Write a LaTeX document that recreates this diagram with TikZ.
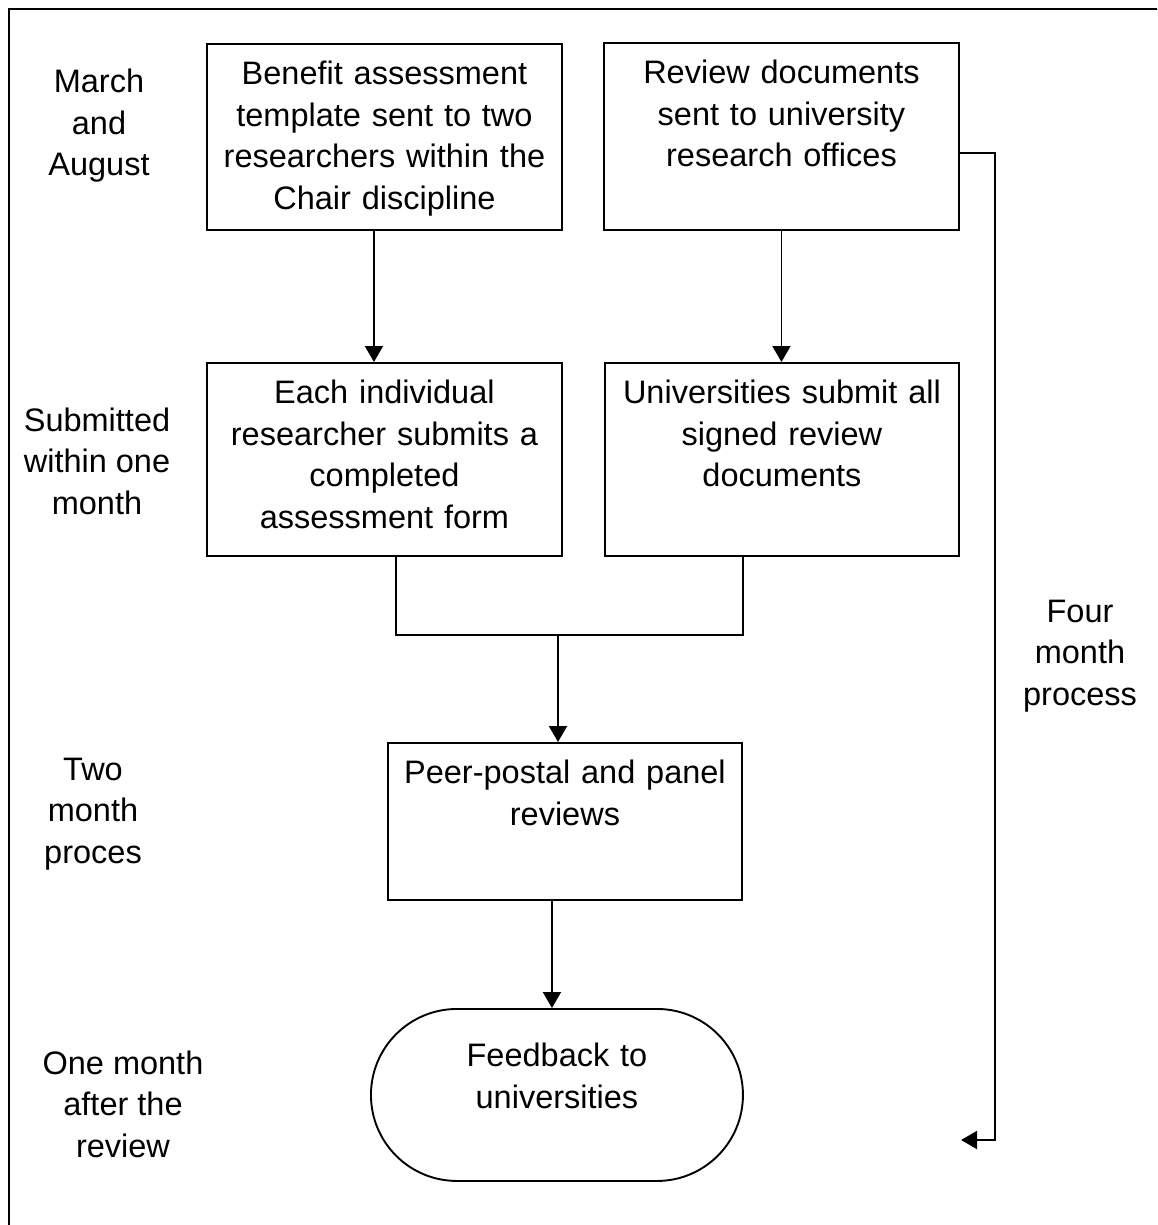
\documentclass[tikz,border=0pt]{standalone}
\usepackage{fontspec}
\setmainfont{Liberation Sans}
\usetikzlibrary{arrows.meta}

\begin{document}
\begin{tikzpicture}[x = 1pt, y = -1pt, line width = 1.9pt,
    every node/.style = {font = \fontsize{32.5}{41.5}\selectfont},
    box/.style = {draw, shape = rectangle, align = center, anchor = north west,
        inner xsep = 0pt, inner ysep = 0pt, text height = 41pt},
    lbl/.style = {align = center, inner sep = 0pt},
    arr/.style = {-{Triangle[length = 16pt, width = 18pt]}}]
    \useasboundingbox (0, 0) rectangle (1157, 1225);
    \clip (0, 0) rectangle (1157, 1225);
    \draw (9, 9) rectangle (1180, 1250);

    % time labels
    \node[lbl] (tmar) at (99, 126) {March\\and\\August};
    \node[lbl] (tsub) at (97, 461) {Submitted\\within one\\month};
    \node[lbl] (ttwo) at (93, 814) {Two\\month\\proces};
    \node[lbl] (tone) at (123, 1104) {One month\\after the\\review};
    \node[lbl] (tfour) at (1080, 656) {Four\\month\\process};

    % steps
    \node[box, text width = 355pt, text depth = 145pt] (b1) at (206, 43)
        {Benefit assessment\\template sent to two\\researchers within the\\Chair discipline};
    \node[box, text width = 355pt, text depth = 146pt] (b2) at (603, 42)
        {Review documents\\sent to university\\research offices};
    \node[box, text width = 355pt, text depth = 152pt] (b3) at (206, 362)
        {Each individual\\researcher submits a\\completed\\assessment form};
    \node[box, text width = 354pt, text depth = 152pt] (b4) at (604, 362)
        {Universities submit all\\signed review\\documents};
    \node[box, text width = 354pt, text depth = 116pt] (b5) at (387, 742)
        {Peer-postal and panel\\reviews};
    \node[box, text width = 372pt, text height = 58pt, text depth = 114pt,
        rounded corners = 86pt] (fb) at (370, 1008)
        {Feedback to\\universities};

    \coordinate (jn) at (558, 635);
    \coordinate (rt) at (995, 1140);
    \coordinate (fbend) at (961, 1140);

    % connectors
    \draw[arr] ([xshift = -10.5pt]b1.south) -- ([xshift = -10.5pt]b1.south |- b3.north);
    \draw[arr] (b2.south) -- (b2.south |- b4.north);
    \draw ([xshift = 11.5pt]b3.south) |- ([xshift = -39pt]b4.south |- jn)
        -- ([xshift = -39pt]b4.south);
    \draw[arr] (jn) -- (jn |- b5.north);
    \draw[arr] ([xshift = -13pt]b5.south) -- ([xshift = -13pt]b5.south |- fb.north);
    \draw[arr] ([yshift = -16.5pt]b2.east) -| (rt) -- (fbend);
\end{tikzpicture}
\end{document}
